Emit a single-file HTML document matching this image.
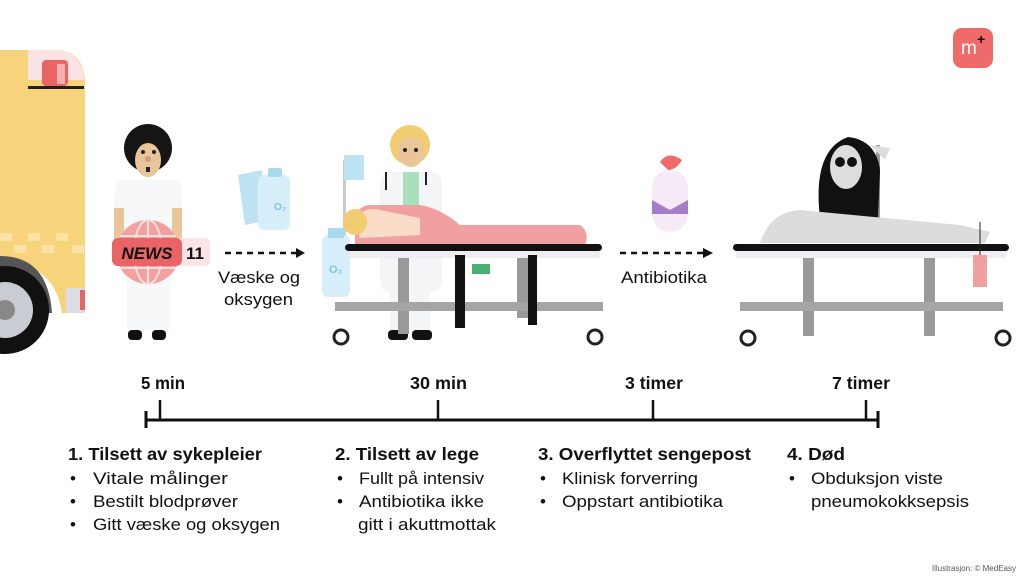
<!DOCTYPE html>
<html><head><meta charset="utf-8"><style>
html,body{margin:0;padding:0;background:#fff}
svg{display:block}
text{font-family:"Liberation Sans",sans-serif;fill:#111}
.h{font-weight:bold;font-size:17.5px}
.b{font-size:17px}
</style></head><body>
<svg width="1024" height="576" viewBox="0 0 1024 576" xmlns="http://www.w3.org/2000/svg">
<!-- Ambulance -->
<path d="M0 50 H55 Q85 50 85 85 V313 H62 Q55 265 5 262 H0 Z" fill="#f7d47c"/>
<path d="M28 50 H55 Q82 50 84 80 H28 Z" fill="#fbe3e3"/>
<rect x="42" y="60" width="26" height="26" rx="4" fill="#e96565"/>
<rect x="57" y="64" width="8" height="20" fill="#f3b0b0"/>
<rect x="28" y="86" width="56" height="3" fill="#222"/>
<g fill="#fbe3a6">
<rect x="0" y="233" width="12" height="8"/><rect x="28" y="233" width="12" height="8"/><rect x="56" y="233" width="12" height="8"/>
<rect x="14" y="245" width="12" height="8"/><rect x="42" y="245" width="12" height="8"/><rect x="72" y="245" width="12" height="8"/>
</g>
<rect x="66" y="288" width="19" height="25" fill="#dcdde3"/>
<rect x="80" y="290" width="5" height="20" fill="#e96565"/>
<path d="M0 256 Q48 256 52 313 H38 Q34 272 0 270 Z" fill="#555"/>
<circle cx="5" cy="310" r="44" fill="#111"/>
<circle cx="5" cy="310" r="28" fill="#c9ccd2"/>
<circle cx="5" cy="310" r="10" fill="#888"/>
<!-- Nurse -->
<rect x="114" y="205" width="12" height="40" fill="#e8c69a"/>
<rect x="170" y="205" width="12" height="40" fill="#e8c69a"/>
<path d="M122 180 H175 Q182 182 182 200 V208 H172 V280 H124 V208 H114 V200 Q114 182 122 180Z" fill="#f6f7f9"/>
<rect x="127" y="278" width="43" height="52" fill="#f6f7f9"/>
<rect x="128" y="330" width="14" height="10" rx="4" fill="#111"/>
<rect x="152" y="330" width="14" height="10" rx="4" fill="#111"/>
<circle cx="148" cy="148" r="24" fill="#151515"/>
<ellipse cx="148" cy="160" rx="13" ry="17" fill="#e8c69a"/>
<circle cx="143" cy="152" r="2" fill="#222"/><circle cx="154" cy="152" r="2" fill="#222"/>
<circle cx="148" cy="159" r="3" fill="#d49a8a"/>
<rect x="146" y="167" width="4" height="5" fill="#222"/>
<!-- NEWS -->
<circle cx="148" cy="252" r="32" fill="#f3a0a0"/>
<g stroke="#fbe0e0" stroke-width="2" fill="none">
<ellipse cx="148" cy="252" rx="14" ry="32"/><line x1="148" y1="220" x2="148" y2="284"/>
<line x1="120" y1="236" x2="176" y2="236"/><line x1="120" y1="268" x2="176" y2="268"/>
</g>
<rect x="176" y="238" width="34" height="28" rx="5" fill="#fbe3e6"/>
<rect x="112" y="238" width="70" height="28" rx="6" fill="#e96565"/>
<text x="147" y="259" text-anchor="middle" font-weight="bold" font-style="italic" font-size="17">NEWS</text>
<text x="195" y="259" text-anchor="middle" font-weight="bold" font-size="17">11</text>
<!-- bags -->
<path d="M238 175 L262 170 L268 220 L245 225 Z" fill="#bde2f2"/>
<rect x="258" y="175" width="32" height="55" rx="6" fill="#d6effa"/>
<rect x="268" y="168" width="14" height="9" rx="2" fill="#a9d9ef"/>
<text x="274" y="210" font-size="10" font-weight="bold" style="fill:#7cc3e3">O₂</text>
<!-- arrow 1 -->
<line x1="225" y1="253" x2="296" y2="253" stroke="#111" stroke-width="2.5" stroke-dasharray="6 5"/>
<path d="M296 248 L305 253 L296 258Z" fill="#111"/>
<text x="218" y="283" class="b" textLength="82" lengthAdjust="spacingAndGlyphs">Væske og</text>
<text x="224" y="305" class="b" textLength="69" lengthAdjust="spacingAndGlyphs">oksygen</text>
<!-- Scene 2 -->
<rect x="343" y="160" width="3" height="80" fill="#ccc"/>
<rect x="344" y="155" width="20" height="25" fill="#bde2f2"/>
<rect x="380" y="172" width="62" height="120" rx="10" fill="#f4f5f7"/>
<rect x="403" y="172" width="16" height="50" fill="#a7e0bb"/>
<rect x="390" y="285" width="40" height="45" fill="#f4f5f7"/>
<rect x="388" y="330" width="20" height="10" rx="4" fill="#111"/><rect x="412" y="330" width="20" height="10" rx="4" fill="#111"/>
<circle cx="410" cy="145" r="20" fill="#f2cc70"/>
<ellipse cx="411" cy="152" rx="13" ry="15" fill="#e8c69a"/>
<circle cx="405" cy="150" r="2" fill="#222"/><circle cx="416" cy="150" r="2" fill="#222"/>
<path d="M386 172 V190 M426 172 V185" stroke="#222" stroke-width="2"/>
<path d="M355 230 Q352 205 372 205 H420 Q440 208 460 225 L580 225 Q590 232 585 245 H355 Z" fill="#f0a0a0"/>
<path d="M355 225 Q360 205 380 210 L420 218 L420 235 L360 238Z" fill="#f8dcc8"/>
<ellipse cx="355" cy="222" rx="12" ry="13" fill="#f2cc70"/>
<rect x="322" y="235" width="28" height="62" rx="6" fill="#d6effa"/>
<rect x="328" y="228" width="16" height="10" fill="#a9d9ef"/>
<text x="329" y="273" font-size="11" font-weight="bold" style="fill:#7cc3e3">O₂</text>
<rect x="345" y="244" width="257" height="7" rx="3.5" fill="#111"/>
<rect x="350" y="251" width="250" height="7" fill="#eceef1"/>
<rect x="398" y="258" width="11" height="76" fill="#9a9a9a"/>
<rect x="517" y="258" width="11" height="60" fill="#9a9a9a"/>
<rect x="335" y="302" width="268" height="9" fill="#a5a5a5"/>
<rect x="455" y="255" width="10" height="73" fill="#111"/>
<rect x="528" y="255" width="9" height="70" fill="#111"/>
<rect x="472" y="264" width="18" height="10" fill="#4bb070"/>
<circle cx="341" cy="337" r="7" fill="#fff" stroke="#222" stroke-width="3"/>
<circle cx="595" cy="337" r="7" fill="#fff" stroke="#222" stroke-width="3"/>
<!-- antibiotic -->
<rect x="652" y="170" width="36" height="62" rx="18" fill="#f6eaf7"/>
<path d="M652 200 L670 210 L688 200 V214 H652Z" fill="#a77cc8"/>
<path d="M660 162 Q668 150 682 160 Q676 170 668 170Z" fill="#ef6b6b"/>
<!-- arrow 2 -->
<line x1="620" y1="253" x2="703" y2="253" stroke="#111" stroke-width="2.5" stroke-dasharray="6 5"/>
<path d="M703 248 L713 253 L703 258Z" fill="#111"/>
<text x="621" y="283" class="b" textLength="86" lengthAdjust="spacingAndGlyphs">Antibiotika</text>
<!-- Scene 3 -->
<rect x="876" y="145" width="4" height="75" fill="#999"/>
<path d="M870 145 L890 148 L885 160 Z" fill="#ddd"/>
<path d="M820 218 Q812 150 848 137 Q876 140 880 170 L878 218Z" fill="#111"/>
<ellipse cx="846" cy="167" rx="16" ry="22" fill="#ddd"/>
<circle cx="840" cy="162" r="5" fill="#111"/><circle cx="852" cy="162" r="5" fill="#111"/>
<path d="M760 243 Q770 212 800 210 L960 225 L990 232 L985 243 Z" fill="#dcdcdc"/>
<rect x="733" y="244" width="276" height="7" rx="3.5" fill="#111"/>
<rect x="736" y="251" width="270" height="7" fill="#eceef1"/>
<rect x="803" y="258" width="11" height="78" fill="#9a9a9a"/>
<rect x="924" y="258" width="11" height="78" fill="#9a9a9a"/>
<rect x="740" y="302" width="263" height="9" fill="#a5a5a5"/>
<rect x="973" y="255" width="14" height="32" fill="#f0a0a0"/>
<line x1="980" y1="222" x2="980" y2="255" stroke="#222"/>
<circle cx="748" cy="338" r="7" fill="#fff" stroke="#222" stroke-width="3"/>
<circle cx="1003" cy="338" r="7" fill="#fff" stroke="#222" stroke-width="3"/>
<!-- logo -->
<rect x="953" y="28" width="40" height="40" rx="9" fill="#ef6b6b"/>
<text x="961" y="54" font-size="19" style="fill:#fff">m</text>
<text x="977" y="44" font-size="14" font-weight="bold">+</text>
<!-- timeline -->
<line x1="146" y1="420" x2="878" y2="420" stroke="#111" stroke-width="3"/>
<line x1="146" y1="411" x2="146" y2="428" stroke="#111" stroke-width="3"/>
<line x1="878" y1="411" x2="878" y2="428" stroke="#111" stroke-width="3"/>
<g stroke="#111" stroke-width="2.5">
<line x1="160" y1="400" x2="160" y2="420"/><line x1="438" y1="400" x2="438" y2="420"/>
<line x1="653" y1="400" x2="653" y2="420"/><line x1="866" y1="400" x2="866" y2="420"/>
</g>
<text x="141" y="389" class="h" textLength="44" lengthAdjust="spacingAndGlyphs">5 min</text>
<text x="410" y="389" class="h" textLength="57" lengthAdjust="spacingAndGlyphs">30 min</text>
<text x="625" y="389" class="h" textLength="58" lengthAdjust="spacingAndGlyphs">3 timer</text>
<text x="832" y="389" class="h" textLength="58" lengthAdjust="spacingAndGlyphs">7 timer</text>

<text x="68" y="460" class="h" textLength="194" lengthAdjust="spacingAndGlyphs">1. Tilsett av sykepleier</text>
<text x="70" y="484" class="b">•</text><text x="93" y="484" class="b" textLength="135" lengthAdjust="spacingAndGlyphs">Vitale målinger</text>
<text x="70" y="507" class="b">•</text><text x="93" y="507" class="b" textLength="145" lengthAdjust="spacingAndGlyphs">Bestilt blodprøver</text>
<text x="70" y="530" class="b">•</text><text x="93" y="530" class="b" textLength="187" lengthAdjust="spacingAndGlyphs">Gitt væske og oksygen</text>

<text x="335" y="460" class="h" textLength="144" lengthAdjust="spacingAndGlyphs">2. Tilsett av lege</text>
<text x="337" y="484" class="b">•</text><text x="359" y="484" class="b" textLength="125" lengthAdjust="spacingAndGlyphs">Fullt på intensiv</text>
<text x="337" y="507" class="b">•</text><text x="359" y="507" class="b" textLength="125" lengthAdjust="spacingAndGlyphs">Antibiotika ikke</text>
<text x="358" y="530" class="b" textLength="138" lengthAdjust="spacingAndGlyphs">gitt i akuttmottak</text>

<text x="538" y="460" class="h" textLength="213" lengthAdjust="spacingAndGlyphs">3. Overflyttet sengepost</text>
<text x="540" y="484" class="b">•</text><text x="562" y="484" class="b" textLength="136" lengthAdjust="spacingAndGlyphs">Klinisk forverring</text>
<text x="540" y="507" class="b">•</text><text x="562" y="507" class="b" textLength="161" lengthAdjust="spacingAndGlyphs">Oppstart antibiotika</text>

<text x="787" y="460" class="h" textLength="58" lengthAdjust="spacingAndGlyphs">4. Død</text>
<text x="789" y="484" class="b">•</text><text x="811" y="484" class="b" textLength="132" lengthAdjust="spacingAndGlyphs">Obduksjon viste</text>
<text x="811" y="507" class="b" textLength="158" lengthAdjust="spacingAndGlyphs">pneumokokksepsis</text>
<text x="1016" y="571" text-anchor="end" font-size="8" style="fill:#555">Illustrasjon: © MedEasy</text>
</svg>
</body></html>
